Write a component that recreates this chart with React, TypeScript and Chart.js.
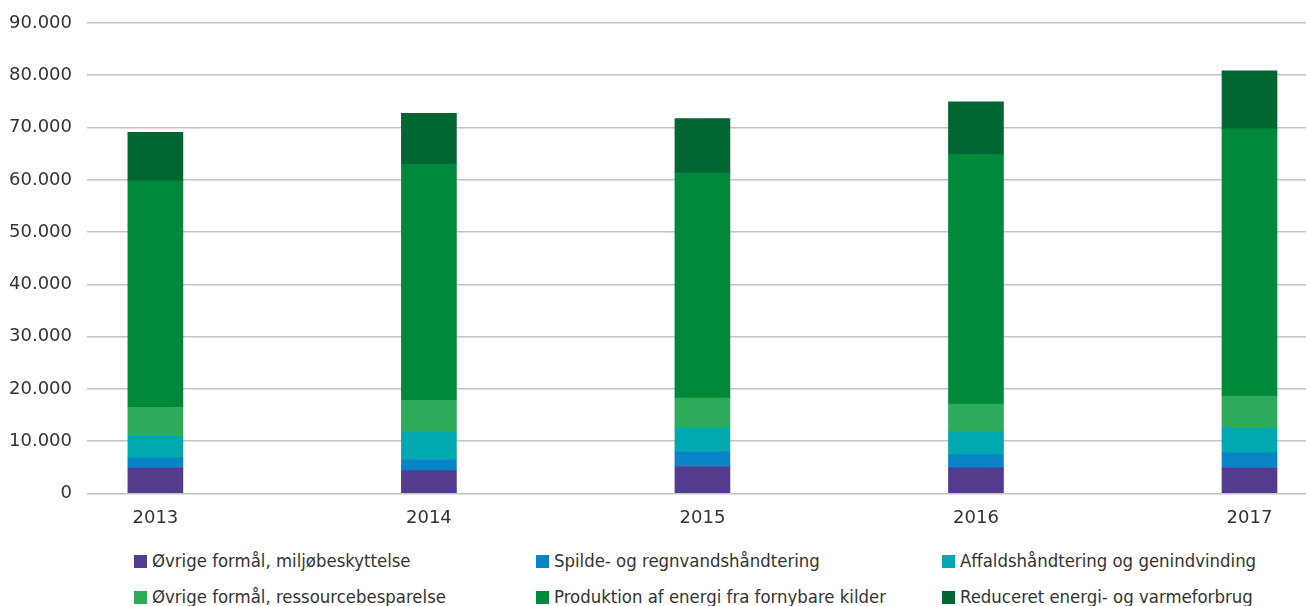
import React, { useEffect, useRef } from 'react';
import { Chart, registerables } from 'chart.js';

Chart.register(...registerables);

// Years on the category axis
const years = [2013, 2014, 2015, 2016, 2017];

// Series values per year
const miljoebeskyttelse = [4850, 4330, 5170, 4900, 4850];
const spildevand = [1950, 2170, 2870, 2490, 2930];
const affald = [4300, 5300, 4520, 4410, 4670];
const ressourcebesparelse = [5400, 6000, 5690, 5300, 6180];
const fornybar = [43300, 45200, 43050, 47800, 51130];
const reduceret = [9300, 9700, 10400, 10000, 11110];

// Value axis range and tick step
const yMin = 0;
const yMax = 90000;
const yStep = 10000;

const seriesLabels = [
  'Øvrige formål, miljøbeskyttelse',
  'Spilde- og regnvandshåndtering',
  'Affaldshåndtering og genindvinding',
  'Øvrige formål, ressourcebesparelse',
  'Produktion af energi fra fornybare kilder',
  'Reduceret energi- og varmeforbrug',
];
const seriesValues = [miljoebeskyttelse, spildevand, affald, ressourcebesparelse, fornybar, reduceret];
const seriesColors = ['#533b8e', '#0784c6', '#00a8b0', '#2eab5a', '#00893b', '#006632'];

const TEXT = '#333333';
const W = 1306;
const H = 540;

const formatThousands = (v: number) => String(v).replace(/\B(?=(\d{3})+(?!\d))/g, '.');

export default function App() {
  const canvasRef = useRef<HTMLCanvasElement | null>(null);

  useEffect(() => {
    document.body.style.margin = '0';
    const canvas = canvasRef.current;
    if (!canvas) return;

    const chart = new Chart(canvas, {
      type: 'bar',
      data: {
        datasets: seriesLabels.map((label, s) => ({
          label,
          data: years.map((yr, i) => ({ x: yr, y: seriesValues[s][i] })),
          backgroundColor: seriesColors[s],
          borderWidth: 0,
          barThickness: 55,
        })),
      },
      options: {
        responsive: false,
        animation: false,
        layout: { padding: { top: 23, left: 0, right: 0, bottom: 0 } },
        plugins: {
          legend: { display: false },
          tooltip: { enabled: false },
        },
        scales: {
          x: {
            type: 'linear',
            stacked: true,
            offset: false,
            min: years[0] - 0.25,
            max: years[years.length - 1] + 0.2066,
            grid: { display: false, drawTicks: false, offset: false },
            border: { display: false },
            ticks: {
              stepSize: 1,
              includeBounds: false,
              padding: 14,
              color: TEXT,
              font: { family: 'DejaVu Sans', size: 18 },
              callback: (v: any) => String(v),
            },
            afterFit: (scale: any) => {
              scale.height = H - 493.5;
              scale.paddingLeft = 0;
              scale.paddingRight = 0;
            },
          },
          y: {
            stacked: true,
            min: yMin,
            max: yMax,
            grid: { color: '#c4c4c4', lineWidth: 1.6, drawTicks: false },
            border: { display: false },
            ticks: {
              stepSize: yStep,
              padding: 15,
              color: TEXT,
              font: { family: 'DejaVu Sans', size: 18 },
              callback: (v: any) => formatThousands(Number(v)),
            },
            afterFit: (scale: any) => {
              scale.width = 87;
              scale.paddingTop = 0;
              scale.paddingBottom = 0;
            },
          },
        },
      },
    });

    return () => chart.destroy();
  }, []);

  const legendFont = "'Liberation Sans Narrow', 'DejaVu Sans Condensed', 'Liberation Sans', sans-serif";

  return (
    <div style={{ position: 'relative', width: W, height: 606, background: '#fff', overflow: 'hidden' }}>
      <canvas ref={canvasRef} width={W} height={H} style={{ display: 'block', width: W, height: H }} />
      <div
        style={{
          position: 'absolute',
          left: 134,
          top: 543,
          display: 'grid',
          gridTemplateColumns: '402px 406px auto',
          gridAutoRows: '36px',
          alignItems: 'center',
        }}
      >
        {seriesLabels.map((label, i) => (
          <div key={label} style={{ display: 'flex', alignItems: 'center', whiteSpace: 'nowrap' }}>
            <span style={{ width: 13, height: 13, background: seriesColors[i], display: 'inline-block', marginRight: 5, flex: 'none' }} />
            <span style={{ fontFamily: legendFont, fontSize: 18.4, color: TEXT, lineHeight: '26px' }}>{label}</span>
          </div>
        ))}
      </div>
    </div>
  );
}
